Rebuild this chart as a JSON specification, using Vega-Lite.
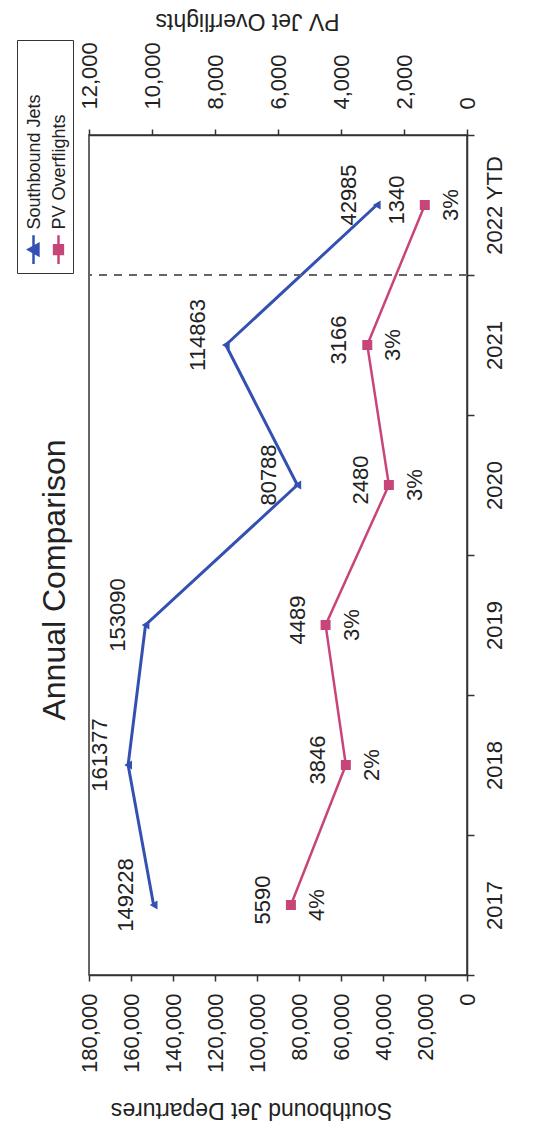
{
  "$schema": "https://vega.github.io/schema/vega-lite/v6.json",
  "width": 378,
  "height": 840,
  "autosize": "none",
  "padding": {"left": 89, "top": 135, "right": 76, "bottom": 170},
  "background": "white",
  "config": {
    "font": "Liberation Sans",
    "view": {"stroke": "#333", "strokeWidth": 1.5},
    "axis": {
      "grid": false,
      "labelFont": "Liberation Sans",
      "titleFont": "Liberation Sans",
      "labelColor": "#222",
      "titleColor": "#222",
      "domainColor": "#333",
      "tickColor": "#333",
      "domainWidth": 1.5,
      "tickWidth": 1.5,
      "labelFontSize": 22,
      "titleFontSize": 23,
      "titleFontWeight": "normal",
      "labelOverlap": false
    }
  },
  "title": {
    "text": "Annual Comparison",
    "orient": "left",
    "anchor": "middle",
    "frame": "group",
    "font": "Liberation Sans",
    "fontSize": 32,
    "fontWeight": "normal",
    "color": "#222",
    "offset": -55,
    "dx": -25
  },
  "data": {
    "values": [
      {"year": "2017", "departures": 149228, "overflights": 5590, "pct": "4%"},
      {"year": "2018", "departures": 161377, "overflights": 3846, "pct": "2%"},
      {"year": "2019", "departures": 153090, "overflights": 4489, "pct": "3%"},
      {"year": "2020", "departures": 80788, "overflights": 2480, "pct": "3%"},
      {"year": "2021", "departures": 114863, "overflights": 3166, "pct": "3%"},
      {"year": "2022 YTD", "departures": 42985, "overflights": 1340, "pct": "3%"}
    ]
  },
  "encoding": {
    "y": {
      "field": "year",
      "type": "ordinal",
      "bandPosition": 0.5,
      "scale": {
        "type": "band",
        "domain": ["2022 YTD", "2021", "2020", "2019", "2018", "2017"],
        "paddingInner": 0,
        "paddingOuter": 0
      },
      "axis": {
        "orient": "right",
        "title": null,
        "labelAngle": 270,
        "labelAlign": "center",
        "labelBaseline": "top",
        "labelPadding": 10,
        "tickBand": "extent",
        "tickSize": 7
      }
    }
  },
  "layer": [
    {
      "encoding": {
        "x": {
          "field": "departures",
          "type": "quantitative",
          "scale": {"domain": [0, 180000], "reverse": true, "nice": false},
          "axis": {
            "orient": "bottom",
            "title": "Southbound Jet Departures",
            "titleAngle": 180,
            "titleAlign": "center",
            "titleBaseline": "middle",
            "titleX": 162,
            "titleY": 134,
            "values": [0, 20000, 40000, 60000, 80000, 100000, 120000, 140000, 160000, 180000],
            "format": ",d",
            "labelAngle": 270,
            "labelAlign": "right",
            "labelBaseline": "middle",
            "labelPadding": 12,
            "tickSize": 6
          }
        }
      },
      "layer": [
        {
          "mark": {"type": "line", "strokeWidth": 3},
          "encoding": {
            "color": {
              "datum": "Southbound Jets",
              "type": "nominal",
              "scale": {"domain": ["Southbound Jets", "PV Overflights"], "range": ["#3451b2", "#c8457a"]},
              "legend": {
                "orient": "none",
                "legendX": -72,
                "legendY": -95,
                "direction": "horizontal",
                "title": " ",
                "titleFontSize": 193,
                "titlePadding": 0,
                "titleOrient": "top",
                "symbolType": "M0,-1.3L0,1.3",
                "symbolSize": 484,
                "symbolStrokeWidth": 2.5,
                "labelFont": "Liberation Sans",
                "labelFontSize": 18,
                "labelColor": "#222",
                "labelLimit": 400,
                "labelOffset": 4,
                "columnPadding": 2,
                "padding": 4,
                "strokeColor": "#333",
                "fillColor": "white",
                "encoding": {
                  "labels": {
                    "angle": {"value": 270},
                    "align": {"value": "left"},
                    "baseline": {"value": "middle"},
                    "dx": {"value": 20},
                    "dy": {"value": -15}
                  },
                  "symbols": {
                    "shape": {"value": {"expr": "datum.value === 'Southbound Jets' ? 'M0,-1.3L0,1.3M-0.45,0L0.45,-0.5L0.45,0.5Z' : 'M0,-1.3L0,1.3M-0.4,-0.4L0.4,-0.4L0.4,0.4L-0.4,0.4Z'"}},
                    "fill": {"value": {"expr": "datum.value === 'Southbound Jets' ? '#3451b2' : '#c8457a'"}},
                    "stroke": {"value": {"expr": "datum.value === 'Southbound Jets' ? '#3451b2' : '#c8457a'"}}
                  }
                }
              }
            }
          }
        },
        {
          "mark": {"type": "point", "shape": "triangle-left", "filled": true, "size": 80, "opacity": 1},
          "encoding": {"color": {"datum": "Southbound Jets", "type": "nominal"}}
        },
        {
          "mark": {"type": "text", "angle": 270, "align": "center", "baseline": "middle", "dy": -28, "dx": 10, "fontSize": 22, "color": "#222"},
          "encoding": {"text": {"field": "departures", "type": "quantitative", "format": "d"}}
        }
      ]
    },
    {
      "encoding": {
        "x": {
          "field": "overflights",
          "type": "quantitative",
          "scale": {"domain": [0, 12000], "reverse": true, "nice": false},
          "axis": {
            "orient": "top",
            "title": "PV Jet Overflights",
            "titleAngle": 180,
            "titleAlign": "center",
            "titleBaseline": "middle",
            "titleX": 158,
            "titleY": -115,
            "values": [0, 2000, 4000, 6000, 8000, 10000, 12000],
            "format": ",d",
            "labelAngle": 270,
            "labelAlign": "left",
            "labelBaseline": "middle",
            "labelPadding": 20,
            "tickSize": 6
          }
        }
      },
      "layer": [
        {
          "mark": {"type": "line", "strokeWidth": 2.5},
          "encoding": {"color": {"datum": "PV Overflights", "type": "nominal"}}
        },
        {
          "mark": {"type": "point", "shape": "square", "filled": true, "size": 100, "opacity": 1},
          "encoding": {"color": {"datum": "PV Overflights", "type": "nominal"}}
        },
        {
          "mark": {"type": "text", "angle": 270, "align": "center", "baseline": "middle", "dy": -28, "dx": 5, "fontSize": 22, "color": "#222"},
          "encoding": {"text": {"field": "overflights", "type": "quantitative", "format": "d"}}
        },
        {
          "mark": {"type": "text", "angle": 270, "align": "center", "baseline": "middle", "dy": 26, "dx": 0, "fontSize": 22, "color": "#222"},
          "encoding": {"text": {"field": "pct", "type": "nominal"}}
        }
      ]
    },
    {
      "mark": {"type": "rule", "strokeDash": [8, 7], "color": "#666", "strokeWidth": 1.5},
      "encoding": {"y": {"datum": "2022 YTD", "type": "ordinal", "bandPosition": 1}}
    }
  ],
  "resolve": {"scale": {"x": "independent"}}
}
